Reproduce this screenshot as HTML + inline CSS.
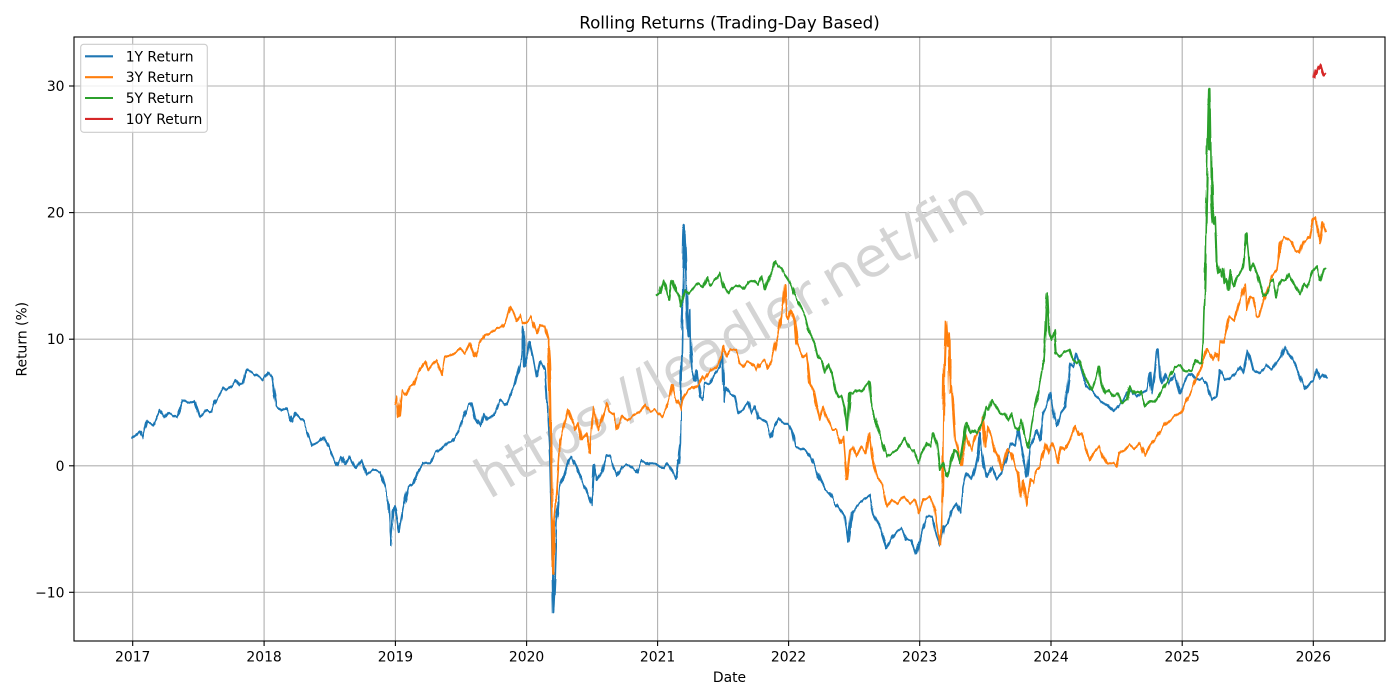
<!DOCTYPE html>
<html><head><meta charset="utf-8"><style>
html,body{margin:0;padding:0;background:#fff;}
svg{display:block;}
text{font-family:"DejaVu Sans","Liberation Sans",sans-serif;fill:#000;}
</style></head><body>
<svg width="1400" height="700" viewBox="0 0 1400 700" xmlns="http://www.w3.org/2000/svg">
<rect width="1400" height="700" fill="#fff"/>
<defs>
<clipPath id="c"><rect x="74" y="37" width="1311" height="604"/></clipPath>
<filter id="jit" x="0" y="0" width="1400" height="700" filterUnits="userSpaceOnUse">
<feTurbulence type="fractalNoise" baseFrequency="0.32 0.03" numOctaves="1" seed="7" result="t"/>
<feDisplacementMap in="SourceGraphic" in2="t" scale="4.5" xChannelSelector="B" yChannelSelector="R"/>
</filter>
</defs>
<g stroke="#b0b0b0" stroke-width="1.1">
<line x1="132.7" y1="37" x2="132.7" y2="641"/><line x1="264.1" y1="37" x2="264.1" y2="641"/><line x1="395.4" y1="37" x2="395.4" y2="641"/><line x1="526.6" y1="37" x2="526.6" y2="641"/><line x1="657.6" y1="37" x2="657.6" y2="641"/><line x1="788.6" y1="37" x2="788.6" y2="641"/><line x1="919.7" y1="37" x2="919.7" y2="641"/><line x1="1051" y1="37" x2="1051" y2="641"/><line x1="1182.2" y1="37" x2="1182.2" y2="641"/><line x1="1313.3" y1="37" x2="1313.3" y2="641"/>
<line x1="74" y1="86" x2="1385" y2="86"/><line x1="74" y1="212.6" x2="1385" y2="212.6"/><line x1="74" y1="339.2" x2="1385" y2="339.2"/><line x1="74" y1="465.8" x2="1385" y2="465.8"/><line x1="74" y1="592.3" x2="1385" y2="592.3"/>
</g>
<text x="729.5" y="339" font-size="55" fill="#d4d4d4" style="fill:#d4d4d4" text-anchor="middle" dominant-baseline="central" transform="rotate(-30 729.5 339)">https://leadler.net/fin</text>
<g clip-path="url(#c)">
<g filter="url(#jit)" fill="none" stroke-width="2.1" stroke-linejoin="round" stroke-linecap="square">
<polyline stroke="#1f77b4" points="132.3,438.3 140,431.7 142.7,438.3 146.7,421.7 153.3,425 160,410 165,418.3 168.3,413.3 176.7,417.3 182.7,400 188.3,402.7 195,401.7 200,416.7 206.7,410 211.7,411.7 215,401.7 223.3,388.3 226.7,390 231.7,386.7 236.7,380 240,385 243.3,383.3 246.7,370 253.3,373.3 263.3,380 268.3,372.7 271.7,376.7 276.7,406.7 281.7,410 286.7,408.3 291.7,421.7 295,413.3 300,418.3 303.3,420 311.7,445 320,441.7 323.3,436.7 330,448.3 336.7,465 341.7,456.7 345,465 350,456.7 355,468.3 361.7,460 366.7,475 373.3,470 380,471.7 385,486.7 386.7,496.7 388.3,505 391,545 393.3,511.7 395,506.7 399.3,531.7 403.3,508.3 408.3,486.7 413.3,483.3 416.7,473.3 423.3,463.3 430,463.3 435,453.3 441.7,448.3 446.7,443.3 451.7,441.7 458.3,431.7 463.3,416.7 468.3,405 471.7,403.3 475,418.3 480,426.7 483.3,413.3 486.7,420 493.3,415 500,400 506.7,405 511.7,390 515,383.3 518.3,370 521.7,356.7 523.3,326.7 525,366.7 528.3,353.3 530,341.7 533.3,356.7 536.7,376.7 540,361.7 545,370 546.7,393.3 550,456.7 551.7,523.3 553.3,613.3 555,576.7 556.7,523.3 560,486.7 565,473.3 568.3,460 571.7,456.7 573.3,460 576.7,466.7 581.7,480 586.7,490 591.7,505 593.3,465 596.7,480 601.7,471.7 606.7,455 610,456.7 613.3,466.7 617.3,476.7 621.7,466.7 628.3,465 636.7,471.7 641.7,460 648.3,465 650,463.3 655,463.3 660,466.7 663.3,468.3 666.7,463.3 670,466.7 675,478.3 676,476.7 678.3,460 679.3,463.3 680.7,443.3 681.7,350 683.3,276.7 684.3,225 685.7,260 686.7,293.3 688.3,336.7 690,310 690.7,350 691.7,370 695,380 696.7,370 700,396.7 702.7,400 705,383.3 710,383.3 715,373.3 720,366.7 722.7,353.3 724,401.7 726,386.7 730,393.3 735,396.7 738.3,413.3 743.3,410 748.3,401.7 751.7,413.3 755,406.7 758.3,418.3 763.3,420 766.7,423.3 771,436.7 773.3,428.3 778.3,418.3 783.3,423.3 788.3,423.3 791.7,430 795,446.7 800,448.3 805,450 810,456.7 815,466.7 820,480 825,490 830,493.3 835,503.3 840,510 845,516.7 848.3,541.7 851.7,513.3 856.7,506.7 863.3,500 869.3,495 873.3,513.3 878.3,523.3 881.7,531.7 886.7,548.3 891.7,538.3 896.7,531.7 901.7,528.3 906.7,540 911.7,540 916.7,553.3 921.7,533.3 926.7,516.7 931.7,516.7 936.7,536.7 940,546 943.3,526.7 948.3,523.3 951.7,510 956.7,503.3 960,513.3 963.3,486.7 966.7,473.3 971.7,480 975,470 978.3,453.3 980,433.3 983.3,460 986,476.7 991.7,466.7 996.7,480 1001.7,473.3 1006.7,456.7 1011.7,443.3 1015,446.7 1018.3,430 1021.7,453.3 1025,466.7 1026.7,476.7 1030,446.7 1033.3,440 1036.7,430 1040,440 1043.3,413.3 1046.7,406.7 1050,393.3 1053.3,413.3 1056.7,426.7 1060,413.3 1065,406.7 1068.3,380 1070,363.3 1073.3,366.7 1076.7,353.3 1080,363.3 1083.3,376.7 1086.7,386.7 1091.7,390 1096.7,396.7 1103.3,403.3 1108.3,405 1113.3,411.7 1118.3,406.7 1123.3,400 1126.7,393.3 1131.7,390 1136.7,396.7 1141.7,393.3 1146.7,390 1150,373.3 1151.7,393.3 1155,370 1156.7,351.7 1158.3,350 1160,376.7 1161.7,383.3 1165,373.3 1170,383.3 1175,373.3 1180,393.3 1186.7,376.7 1191.7,373.3 1196.7,380 1201.7,378.3 1206.7,383.3 1211.7,400 1216.7,396.7 1220,370 1225,380 1230,378.3 1235,373.3 1240,366.7 1243.3,373.3 1248.3,350 1253.3,370 1260,373.3 1266.7,365 1271.7,370 1276.7,361.7 1281.7,356.7 1285,346.7 1290,355 1295,363.3 1300,376.7 1305,388.3 1310,381.7 1313.3,380 1316.7,370 1320,378.3 1323.3,375 1325.7,378.3"/>
<polyline stroke="#ff7f0e" points="395,403.3 396.7,396.7 399,416.7 401.7,390 406.7,395 410,386.7 413.3,385 416.7,375 421.7,366.7 425,361.7 428.3,370 433.3,363.3 436.7,360 441.7,375 445,356.7 451.7,355 456.7,351.7 460,348.3 465,353.3 470,343.3 475,356.7 480,343.3 485,335 490,333.3 496.7,328.3 501.7,326.7 505,321.7 510,306.7 513.3,311.7 516.7,320 520,315 523.3,323.3 526.7,321.7 531.7,316.7 536.7,333.3 540,325 545,326.7 548.3,340 550,390 551.7,490 552.7,573.3 554,523.3 556.7,490 560,440 565,423.3 568.3,410 571.7,420 575,430 578.3,423.3 581.7,440 586.7,433.3 590,453.3 593.3,406.7 598.3,430 601.7,421.7 606.7,403.3 610,411.7 613.3,413.3 616.7,430 621.7,416.7 626.7,420 633.3,415 640,412 645,405 650,411.7 655,410 661.7,416.7 666.7,406.7 670,396.7 672.3,385 675,396.7 678.3,403.3 680.7,410 683.3,396.7 688.3,390 693.3,388.3 698.3,383.3 701.7,376.7 705,380 708.3,373.3 711.7,370 716.7,366.7 721.7,356.7 723.3,346.7 726.7,356.7 730,350 735,350 738.3,356.7 740,363.3 743.3,366.7 746.7,361.7 751.7,363.3 756.7,370 760,363.3 765,360 768.3,368.3 771.7,361.7 775,346.7 778.3,333.3 781.7,310 783.3,300 785,285 786.7,316.7 788.3,320 791.7,310 795,320 796.7,343.3 800,350 803.3,356.7 806.7,353.3 810,383.3 813.3,390 816.7,406.7 820,420 823.3,406.7 826.7,416.7 830,423.3 833.3,430 836.7,430 840,443.3 843.3,436.7 846.7,480 850,450 853.3,446.7 856.7,456.7 861.7,446.7 866.7,453.3 869.3,433.3 873.3,463.3 876.7,476.7 881.7,483.3 886.7,506.7 891.7,500 896.7,503.3 903.3,496.7 910,503.3 915,500 918.3,513.3 923.3,500 930,496.7 935,510 938.3,533.3 940.7,545 942.7,486.7 944,380 945.7,321.7 947.3,346.7 949,333.3 950,393.3 951.7,386.7 953.3,413.3 955,440 958.3,453.3 961.7,465 965,433.3 968.3,443.3 971.7,450 975,436.7 980,430 982.7,416.7 985,446.7 988.3,426.7 991.7,436.7 995,450 998.3,456.7 1001.7,470 1006.7,450 1011.7,453.3 1015,466.7 1018.3,473.3 1020.7,496.7 1023.3,480 1026.7,505 1030,480 1033.3,483.3 1036.7,470 1040,466.7 1045,443.3 1048.3,453.3 1051.7,443.3 1055,450 1058.3,463.3 1061.7,446.7 1065,450 1070,440 1075,426.7 1078.3,435 1081.7,433.3 1085,443.3 1090,460 1093.3,453.3 1096.7,450 1100,446.7 1103.3,456.7 1106.7,463.3 1113.3,463.3 1116.7,466.7 1120,453.3 1125,450 1130,445 1135,448.3 1140,443.3 1145,456.7 1150,446 1156.7,436.7 1163.3,426.7 1170,420 1176.7,415 1181.7,411.7 1186.7,400 1191.7,390 1196.7,378.3 1201.7,366.7 1206.7,350 1210,353.3 1213.3,360 1216.7,353.3 1218.3,360 1220,340 1223.3,343.3 1226.7,330 1230,316.7 1235,320 1238.3,306.7 1241.7,296.7 1245,283.3 1246.7,310 1250,296.7 1253.3,298.3 1256.7,316.7 1260,316.7 1263.3,303.3 1266.7,290 1271.7,276.7 1276.7,270 1280,243.3 1283.3,236.7 1288.3,240 1291.7,241.7 1295,250 1300,253.3 1303.3,241.7 1306.7,240 1310,236.7 1313.3,220 1316.7,216.7 1318.3,231.7 1320,243.3 1322.7,221.7 1325.7,231.7"/>
<polyline stroke="#2ca02c" points="657.3,295 660,293.3 662.7,280 665,286.7 666.7,295 669.3,300 671.7,280 673.3,281.7 676,291.7 679.3,296.7 681,306.7 682.7,300 685,290 688.3,293.3 693.3,288.3 698.3,283.3 703.3,286.7 706.7,276.7 710,285 713.3,281.7 716.7,278.3 720,273.3 723.3,286.7 728.3,293.3 733.3,286.7 738.3,285 743.3,288.3 748.3,281.7 753.3,280 758.3,285 761.7,276.7 765,290 768.3,280 771.7,271.7 775,261.7 778.3,266.7 781.7,268.3 785,275 788.3,280 791.7,286.7 795,296.7 798.3,301.7 801.7,310 805,316.7 808.3,330 811.7,336.7 815,343.3 818.3,356.7 821.7,360 825,373.3 828.3,365 831.7,373.3 835,390 838.3,396.7 841.7,396.7 845,410 847.3,430 850,393.3 853.3,393.3 856.7,390 861.7,391.7 865,386.7 869.3,381.7 871.7,403.3 875,420 878.3,430 881.7,440 886.7,456.7 891.7,453.3 896.7,450 901.7,443.3 905,438.3 910,448.3 913.3,450 918.3,463.3 921.7,453.3 926.7,443.3 930,446.7 933.3,433.3 936.7,443.3 940,470 943.3,463.3 946.7,476.7 950,466.7 953.3,450 956.7,453.3 960,463.3 963.3,443.3 966.7,423.3 970,433.3 973.3,430 976.7,433.3 980,426.7 983.3,420 986,406.7 989.3,410 991.7,400 996.7,406.7 1000,413.3 1005,413.3 1008.3,420 1011.7,413.3 1015,426.7 1018.3,430 1021.7,420 1025,436.7 1028.3,446.7 1031.7,423.3 1035,406.7 1038.3,393.3 1041.7,373.3 1044,356.7 1045.7,330 1047.3,293.3 1049.3,333.3 1051.7,340 1055,330 1056.7,353.3 1060,356.7 1065,351.7 1070,350 1073.3,360 1076.7,363.3 1080,360 1083.3,373.3 1088.3,383.3 1091.7,390 1096.7,376.7 1099.3,366.7 1101.7,383.3 1105,393.3 1108.3,390 1113.3,396.7 1118.3,393.3 1121.7,403.3 1126.7,400 1130,386.7 1135,393.3 1140,391.7 1145,406.7 1150,401 1155,401.7 1158.3,396.7 1161.7,390 1165,383.3 1168.3,380 1171.7,373.3 1175,366.7 1180,365 1183.3,370 1188.3,371.7 1191.7,370 1195,360 1198.3,363.3 1201.7,363.3 1203.3,343.3 1205,283.3 1206,230 1207.3,166.7 1208.3,116.7 1209,88.3 1210,150 1211,143.3 1212,200 1213.3,223.3 1215,216.7 1216.7,263.3 1218.3,273.3 1220,270 1221.7,276.7 1223.3,268.3 1225,283.3 1226.7,280 1228.3,290 1230,270 1231.7,283.3 1233.3,286.7 1235,280 1236.7,276.7 1240,273.3 1243.3,266.7 1246.7,233.3 1248.3,250 1250,270 1253.3,263.3 1256.7,273.3 1260,286.7 1263.3,296.7 1266.7,293.3 1270,283.3 1273.3,280 1276,296.7 1278.3,286.7 1281.7,280 1285,280 1288.3,273.3 1291.7,280 1295,286.7 1300,295 1303.3,283.3 1306.7,286.7 1310,280 1313.3,270 1316.7,266.7 1320,280 1323.3,270 1325.7,268.3"/>
<polyline stroke="#d62728" points="1314,76.7 1315,70 1316,73 1318.3,66.7 1319.5,69 1320.7,65 1322.7,71.7 1324,75 1326,73.3"/>
</g>
</g>
<rect x="74" y="37" width="1311" height="604" fill="none" stroke="#000" stroke-width="1.1"/>
<g stroke="#000" stroke-width="1.1">
<line x1="132.7" y1="641" x2="132.7" y2="646"/><line x1="264.1" y1="641" x2="264.1" y2="646"/><line x1="395.4" y1="641" x2="395.4" y2="646"/><line x1="526.6" y1="641" x2="526.6" y2="646"/><line x1="657.6" y1="641" x2="657.6" y2="646"/><line x1="788.6" y1="641" x2="788.6" y2="646"/><line x1="919.7" y1="641" x2="919.7" y2="646"/><line x1="1051" y1="641" x2="1051" y2="646"/><line x1="1182.2" y1="641" x2="1182.2" y2="646"/><line x1="1313.3" y1="641" x2="1313.3" y2="646"/>
<line x1="69" y1="86" x2="74" y2="86"/><line x1="69" y1="212.6" x2="74" y2="212.6"/><line x1="69" y1="339.2" x2="74" y2="339.2"/><line x1="69" y1="465.8" x2="74" y2="465.8"/><line x1="69" y1="592.3" x2="74" y2="592.3"/>
</g>
<g font-size="13.9" text-anchor="middle">
<text x="132.7" y="661.5">2017</text><text x="264.1" y="661.5">2018</text><text x="395.4" y="661.5">2019</text><text x="526.6" y="661.5">2020</text><text x="657.6" y="661.5">2021</text><text x="788.6" y="661.5">2022</text><text x="919.7" y="661.5">2023</text><text x="1051" y="661.5">2024</text><text x="1182.2" y="661.5">2025</text><text x="1313.3" y="661.5">2026</text>
</g>
<g font-size="13.9" text-anchor="end">
<text x="64.5" y="91">30</text><text x="64.5" y="217.6">20</text><text x="64.5" y="344.2">10</text><text x="64.5" y="470.8">0</text><text x="64.5" y="597.3">−10</text>
</g>
<text x="729.5" y="28.7" font-size="16.7" text-anchor="middle">Rolling Returns (Trading-Day Based)</text>
<text x="729.5" y="682" font-size="13.9" text-anchor="middle">Date</text>
<text transform="translate(26.5,339.2) rotate(-90)" font-size="13.9" text-anchor="middle">Return (%)</text>
<rect x="80.7" y="44.3" width="126.6" height="88" rx="3" fill="#fff" fill-opacity="0.8" stroke="#cccccc" stroke-width="1.1"/>
<g stroke-width="2.1">
<line x1="85" y1="56.3" x2="113" y2="56.3" stroke="#1f77b4"/>
<line x1="85" y1="77.2" x2="113" y2="77.2" stroke="#ff7f0e"/>
<line x1="85" y1="98" x2="113" y2="98" stroke="#2ca02c"/>
<line x1="85" y1="118.9" x2="113" y2="118.9" stroke="#d62728"/>
</g>
<g font-size="13.9">
<text x="125.7" y="61.3">1Y Return</text>
<text x="125.7" y="82.2">3Y Return</text>
<text x="125.7" y="103">5Y Return</text>
<text x="125.7" y="123.9">10Y Return</text>
</g>
</svg>
</body></html>
